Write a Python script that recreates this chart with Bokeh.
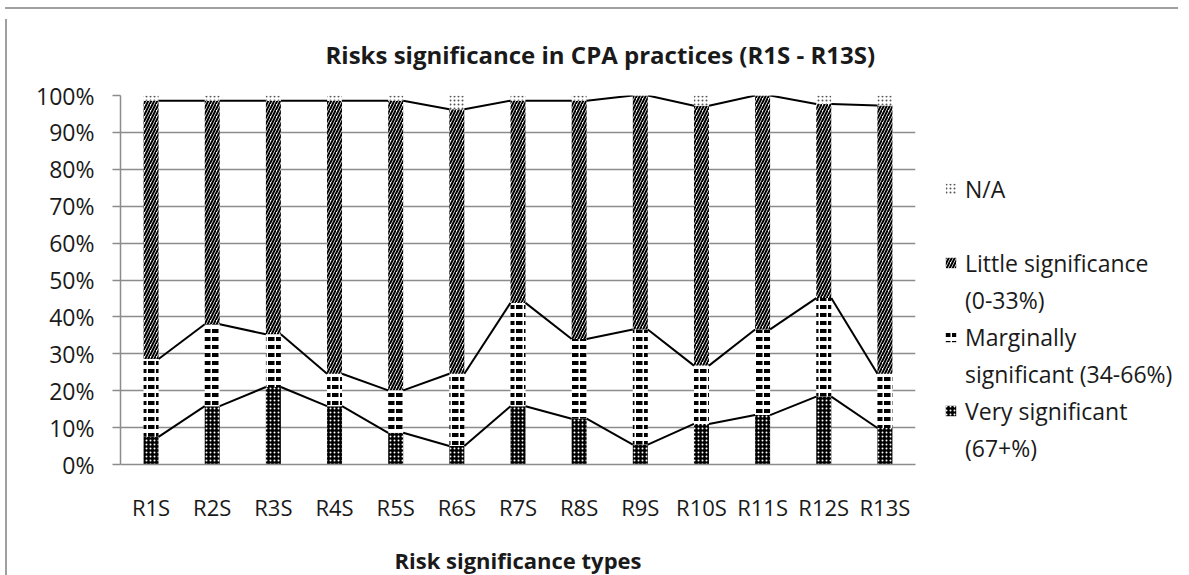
from bokeh.plotting import figure
from bokeh.models import (ColumnDataSource, Range1d, FixedTicker, PrintfTickFormatter, Legend,
                          LegendItem, Div, Spacer)
from bokeh.layouts import column, row
from bokeh.embed import file_html
from bokeh.resources import INLINE

# ---------------- data ----------------
categories = ["R1S", "R2S", "R3S", "R4S", "R5S", "R6S", "R7S",
              "R8S", "R9S", "R10S", "R11S", "R12S", "R13S"]
very_significant = [7.5, 15.8, 21.0, 15.8, 8.6, 5.0, 15.8, 12.4, 5.4, 11.0, 13.4, 18.4, 9.9]
marginally_significant = [21.1, 22.2, 14.3, 8.8, 11.5, 19.6, 28.0, 21.6, 31.2, 15.8, 23.2, 26.7, 14.7]
little_significance = [70.0, 60.6, 63.3, 74.0, 78.5, 71.7, 54.8, 64.6, 63.4, 70.4, 63.4, 52.6, 72.7]
not_applicable = [1.4, 1.4, 1.4, 1.4, 1.4, 3.7, 1.4, 1.4, 0.0, 2.8, 0.0, 2.3, 2.7]
y_ticks = [0, 10, 20, 30, 40, 50, 60, 70, 80, 90, 100]

series_labels = [["Very significant", "(67+%)"],
                 ["Marginally", "significant (34-66%)"],
                 ["Little significance", "(0-33%)"],
                 ["N/A"]]
series_values = [very_significant, marginally_significant, little_significance, not_applicable]

FONT = "Open Sans"
BAR_W = 0.245
GRID = "#8c8c8c"
BORDER = "#a0a0a0"
TEXT = "#1a1a1a"

styles = [
    dict(fill_color="black", hatch_pattern="dot", hatch_color="white", hatch_scale=4, hatch_weight=1),
    dict(fill_color="white", hatch_pattern="horizontal_dash", hatch_color="black", hatch_scale=8, hatch_weight=4),
    dict(fill_color="white", hatch_pattern="right_diagonal_line", hatch_color="black", hatch_scale=6, hatch_weight=2),
    dict(fill_color="white", hatch_pattern="dot", hatch_color="#555555", hatch_scale=4, hatch_weight=1),
]

xs = list(range(1, len(categories) + 1))
bottoms = [0.0] * len(categories)
stack_rows = []
for vals in series_values:
    tops = [b + v for b, v in zip(bottoms, vals)]
    stack_rows.append((list(bottoms), tops))
    bottoms = tops

# ---------------- main chart ----------------
H = 563
p = figure(width=908, height=H, output_backend="svg", toolbar_location=None,
           x_range=Range1d(0.5, len(categories) + 0.5), y_range=Range1d(0, 100),
           min_border_left=108, min_border_right=5, min_border_top=81, min_border_bottom=108)
p.outline_line_color = None
p.background_fill_color = "white"
p.border_fill_color = "white"

renderers = []
for (bot, top), st in zip(stack_rows, styles):
    src = ColumnDataSource(dict(x=xs, bottom=bot, top=top))
    r = p.vbar(x="x", bottom="bottom", top="top", width=BAR_W, source=src, line_color=None, **st)
    renderers.append(r)

# series lines connecting the tops of the first three stacks
for bot, top in stack_rows[:3]:
    seg = ColumnDataSource(dict(
        x0=[x + BAR_W / 2 for x in xs[:-1]], y0=top[:-1],
        x1=[x - BAR_W / 2 for x in xs[1:]], y1=top[1:]))
    p.segment(x0="x0", y0="y0", x1="x1", y1="y1", source=seg, line_color="black", line_width=2)

p.xgrid.grid_line_color = None
p.ygrid.grid_line_color = GRID
p.ygrid.grid_line_width = 1.5
p.ygrid.ticker = FixedTicker(ticks=y_ticks)

p.yaxis.ticker = FixedTicker(ticks=y_ticks)
p.yaxis.formatter = PrintfTickFormatter(format="%d%%")
p.yaxis.axis_line_color = GRID
p.yaxis.axis_line_width = 1.5
p.yaxis.major_tick_line_color = GRID
p.yaxis.major_tick_line_width = 1.5
p.yaxis.major_tick_out = 8
p.yaxis.major_tick_in = 0
p.yaxis.minor_tick_line_color = None
p.yaxis.major_label_standoff = 18
p.yaxis.major_label_text_font = FONT
p.yaxis.major_label_text_font_size = "23px"
p.yaxis.major_label_text_color = TEXT

p.xaxis.ticker = FixedTicker(ticks=xs)
p.xaxis.major_label_overrides = {x: c for x, c in zip(xs, categories)}
p.xaxis.axis_line_color = GRID
p.xaxis.axis_line_width = 1.5
p.xaxis.major_tick_line_color = None
p.xaxis.minor_tick_line_color = None
p.xaxis.major_tick_out = 0
p.xaxis.major_label_standoff = 27
p.xaxis.major_label_text_font = FONT
p.xaxis.major_label_text_font_size = "22px"
p.xaxis.major_label_text_color = TEXT
p.xaxis.axis_label = "Risk significance types"
p.xaxis.axis_label_standoff = 20
p.xaxis.axis_label_text_font = FONT
p.xaxis.axis_label_text_font_size = "22px"
p.xaxis.axis_label_text_font_style = "bold"
p.xaxis.axis_label_text_color = TEXT

p.title.text = "Risks significance in CPA practices (R1S - R13S)"
p.title.text_font = FONT
p.title.text_font_size = "24px"
p.title.text_font_style = "bold"
p.title.text_color = TEXT
p.title.align = "left"
p.title.offset = 205
p.title.vertical_align = "top"
p.title.standoff = 45

# ---------------- legend panel (frame aligned with the chart frame) ----------------
lf = figure(width=263, height=H, output_backend="svg", toolbar_location=None,
            x_range=Range1d(0, 1), y_range=Range1d(0, 1),
            x_axis_location=None, y_axis_location=None, min_border=0, title=None)
lf.outline_line_color = None
lf.grid.grid_line_color = None
lf.background_fill_color = "white"
lf.border_fill_color = "white"

# off-range swatch renderers, only used to draw the legend symbols
swatches = [lf.vbar(x=[-5], bottom=[0], top=[0], width=0.1, line_color=None, **st) for st in styles]
blank = lf.vbar(x=[-5], bottom=[0], top=[0], width=0.1, fill_alpha=0, line_alpha=0)

items = []
for i in (3, 2, 1, 0):
    lines = series_labels[i]
    items.append(LegendItem(label=lines[0], renderers=[swatches[i]]))
    for extra in lines[1:]:
        items.append(LegendItem(label=extra, renderers=[blank]))
    if i == 3:
        items.append(LegendItem(label=" ", renderers=[blank]))

lg = Legend(items=items, location=(24, 0))
lg.label_text_font = FONT
lg.label_text_font_size = "23px"
lg.label_text_color = TEXT
lg.glyph_width = 13
lg.glyph_height = 13
lg.label_height = 33
lg.label_standoff = 8
lg.spacing = 4
lg.padding = 0
lg.margin = 0
lg.border_line_color = None
lg.background_fill_alpha = 0
lf.add_layout(lg)

# ---------------- page layout with chart-area border ----------------
top_line = Div(text="", width=1173, height=2, styles={"background-color": BORDER})
left_line = Div(text="", width=2, height=H, styles={"background-color": BORDER})
layout = column(
    Spacer(width=1173, height=2),
    top_line,
    row(left_line, p, lf),
    styles={"margin-bottom": "-8px"},
)

open("out.html", "w").write(file_html(layout, INLINE))
